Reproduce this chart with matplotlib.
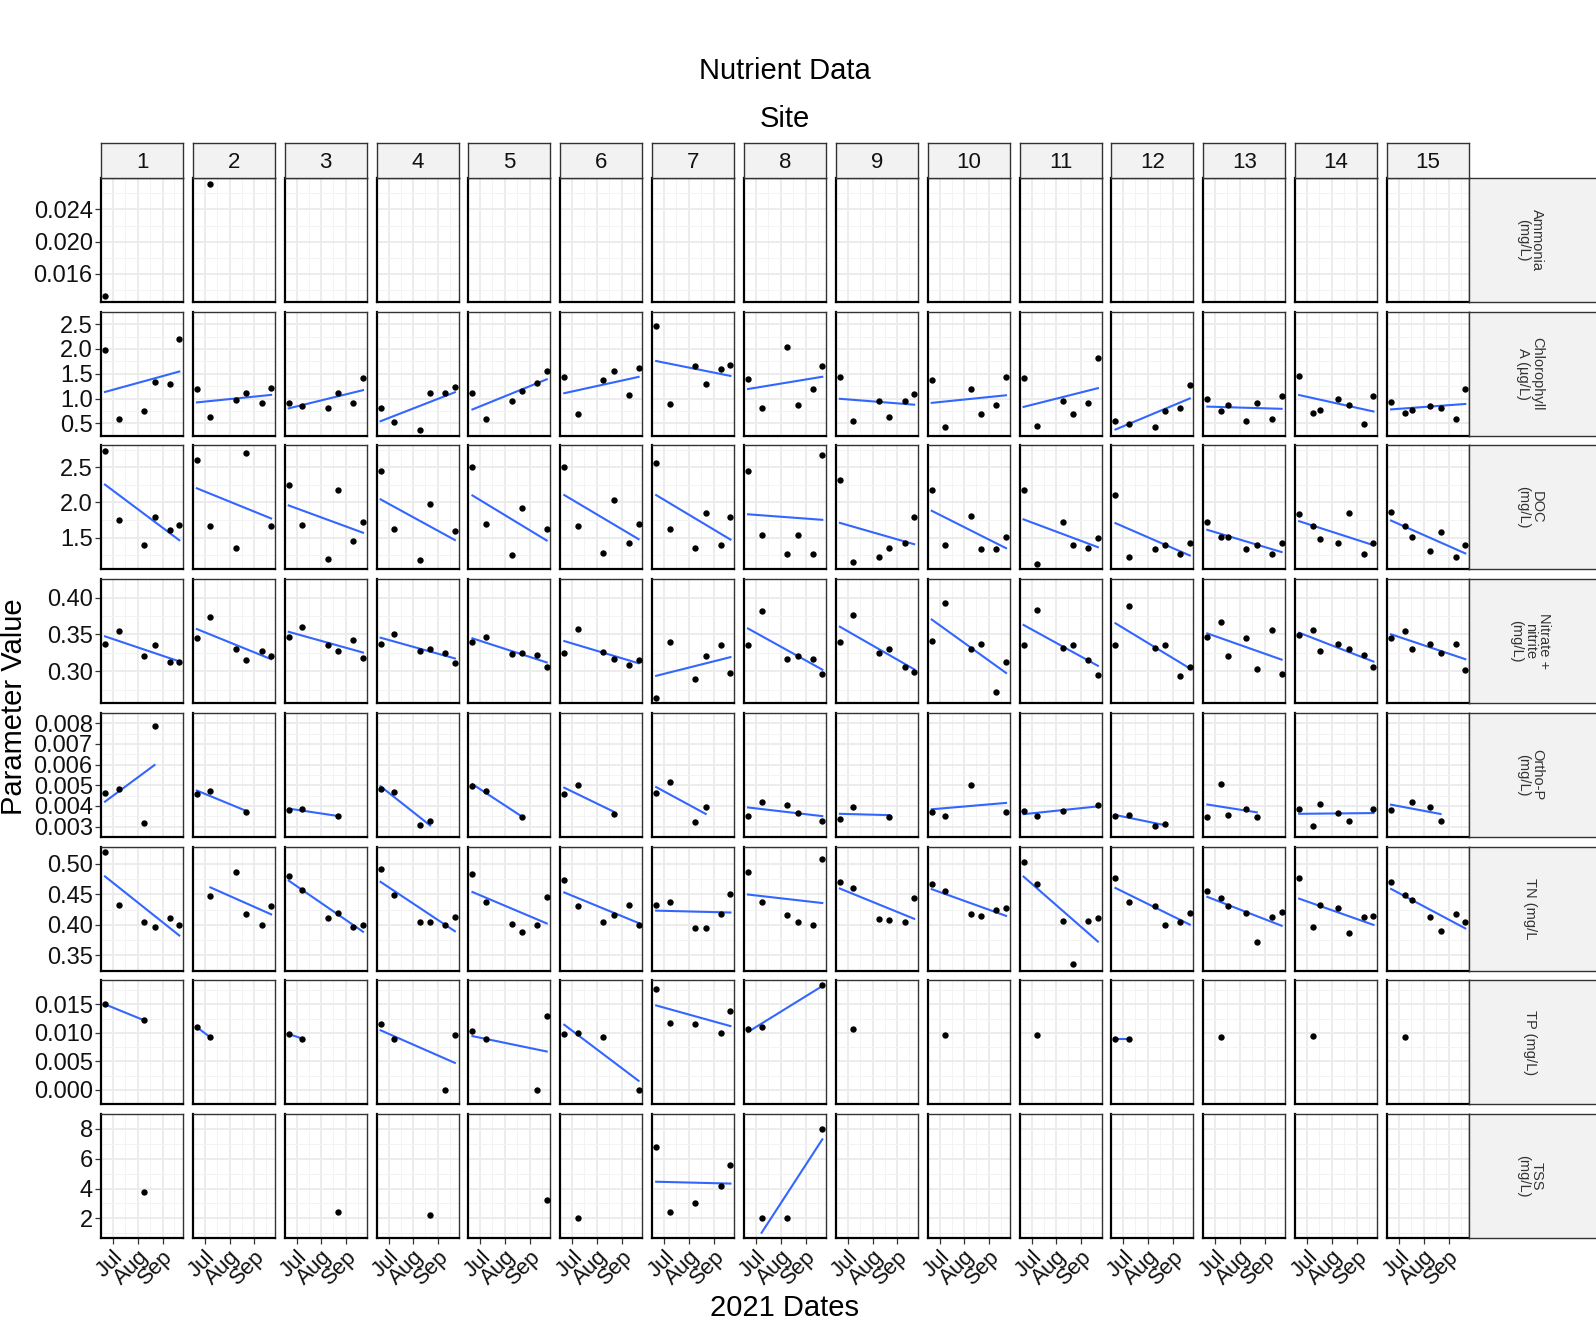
import numpy as np
import matplotlib.pyplot as plt
import matplotlib.dates as mdates

plt.rcParams['font.family'] = ['Liberation Sans', 'DejaVu Sans']

N = None

# sampling visits; only sites 13-15 have the extra mid-July visit
DATES = ['2021-06-21', '2021-07-08', '2021-07-17', '2021-08-09',
         '2021-08-22', '2021-09-10', '2021-09-22']
SITES = [str(i) for i in range(1, 16)]
STRIP_LABELS = ['Ammonia\n(mg/L)', 'Chlorophyll\nA (µg/L)', 'DOC\n(mg/L)',
                'Nitrate +\nnitrite\n(mg/L)', 'Ortho-P\n(mg/L)', 'TN (mg/L',
                'TP (mg/L)', 'TSS\n(mg/L)']
MONTH_TICKS = ['2021-07-01', '2021-08-01', '2021-09-01']
MONTH_LABELS = ['Jul', 'Aug', 'Sep']
MINOR_X = ['2021-06-16', '2021-07-16', '2021-08-16', '2021-09-16']

EMPTY = [N, N, N, N, N, N, N]

# one list per site, one slot per date in DATES (None = not sampled)
ammonia = [
    [0.0132, N, N, N, N, N, N],
    [N, 0.0272, N, N, N, N, N],
    EMPTY, EMPTY, EMPTY, EMPTY, EMPTY, EMPTY, EMPTY,
    EMPTY, EMPTY, EMPTY, EMPTY, EMPTY, EMPTY,
]

chlorophyll = [
    [1.98, 0.58, N, 0.75, 1.33, 1.29, 2.20],
    [1.19, 0.62, N, 0.98, 1.11, 0.91, 1.21],
    [0.91, 0.85, N, 0.81, 1.11, 0.91, 1.41],
    [0.81, 0.52, N, 0.36, 1.12, 1.11, 1.23],
    [1.12, 0.58, N, 0.94, 1.15, 1.31, 1.55],
    [1.43, 0.68, N, 1.37, 1.55, 1.07, 1.61],
    [2.47, 0.89, N, 1.65, 1.29, 1.59, 1.67],
    [1.39, 0.81, N, 2.04, 0.87, 1.19, 1.65],
    [1.43, 0.54, N, 0.95, 0.62, 0.95, 1.09],
    [1.37, 0.43, N, 1.19, 0.68, 0.87, 1.43],
    [1.41, 0.44, N, 0.95, 0.68, 0.91, 1.82],
    [0.54, 0.48, N, 0.43, 0.75, 0.81, 1.27],
    [0.99, 0.75, 0.87, 0.54, 0.91, 0.59, 1.05],
    [1.45, 0.71, 0.77, 0.99, 0.87, 0.48, 1.05],
    [0.93, 0.71, 0.77, 0.85, 0.81, 0.59, 1.19],
]

doc = [
    [2.73, 1.75, N, 1.39, 1.80, 1.61, 1.68],
    [2.61, 1.66, N, 1.36, 2.70, N, 1.66],
    [2.25, 1.68, N, 1.20, 2.18, 1.46, 1.72],
    [2.45, 1.63, N, 1.19, 1.98, N, 1.60],
    [2.50, 1.69, N, 1.25, 1.92, N, 1.62],
    [2.51, 1.66, N, 1.29, 2.03, 1.42, 1.69],
    [2.56, 1.63, N, 1.36, 1.85, 1.39, 1.79],
    [2.45, 1.54, N, 1.27, 1.54, 1.27, 2.67],
    [2.32, 1.16, N, 1.23, 1.36, 1.42, 1.79],
    [2.18, 1.39, N, 1.81, 1.34, 1.34, 1.51],
    [2.18, 1.13, N, 1.72, 1.39, 1.36, 1.50],
    [2.10, 1.22, N, 1.34, 1.40, 1.27, 1.42],
    [1.72, 1.51, 1.51, 1.34, 1.39, 1.27, 1.43],
    [1.83, 1.66, 1.48, 1.42, 1.85, 1.27, 1.43],
    [1.87, 1.66, 1.51, 1.31, 1.58, 1.23, 1.40],
]

nitrate = [
    [0.337, 0.355, N, 0.321, 0.335, 0.312, 0.313],
    [0.345, 0.373, N, 0.330, 0.315, 0.327, 0.320],
    [0.346, 0.360, N, 0.335, 0.328, 0.342, 0.318],
    [0.337, 0.350, N, 0.328, 0.330, 0.325, 0.311],
    [0.339, 0.346, N, 0.323, 0.325, 0.322, 0.306],
    [0.325, 0.357, N, 0.326, 0.316, 0.308, 0.315],
    [0.263, 0.339, N, 0.289, 0.320, 0.336, 0.297],
    [0.335, 0.382, N, 0.316, 0.320, 0.317, 0.296],
    [0.339, 0.376, N, 0.325, 0.330, 0.305, 0.299],
    [0.341, 0.393, N, 0.330, 0.337, 0.271, 0.313],
    [0.335, 0.383, N, 0.332, 0.336, 0.315, 0.295],
    [0.335, 0.389, N, 0.332, 0.336, 0.293, 0.306],
    [0.346, 0.367, 0.320, 0.345, 0.303, 0.356, 0.296],
    [0.349, 0.356, 0.327, 0.337, 0.330, 0.322, 0.306],
    [0.345, 0.355, 0.330, 0.337, 0.325, 0.337, 0.302],
]

ortho_p = [
    [0.00461, 0.00483, N, 0.00317, 0.00786, N, N],
    [0.00455, 0.00473, N, N, 0.00368, N, N],
    [0.00382, 0.00383, N, N, 0.00349, N, N],
    [0.00483, 0.00469, N, 0.00308, 0.00327, N, N],
    [0.00497, 0.00473, N, N, 0.00345, N, N],
    [0.00455, 0.00501, N, N, 0.00359, N, N],
    [0.00461, 0.00515, N, 0.00323, 0.00396, N, N],
    [0.00349, 0.00418, N, 0.00404, 0.00363, N, 0.00327],
    [0.00335, 0.00396, N, N, 0.00345, N, N],
    [0.00368, 0.00349, N, 0.00501, N, N, 0.00368],
    [0.00377, 0.00349, N, 0.00373, N, N, 0.00404],
    [0.00349, 0.00355, N, 0.00304, 0.00313, N, N],
    [0.00345, 0.00506, 0.00355, 0.00387, 0.00345, N, N],
    [0.00387, 0.00304, 0.00410, 0.00363, 0.00327, N, 0.00387],
    [0.00382, N, 0.00418, 0.00396, 0.00327, N, N],
]

tn = [
    [0.519, 0.432, N, 0.404, 0.396, 0.411, 0.399],
    [N, 0.447, N, 0.486, 0.418, 0.399, 0.430],
    [0.480, 0.457, N, 0.411, 0.419, 0.396, 0.399],
    [0.491, 0.449, N, 0.404, 0.404, 0.399, 0.412],
    [0.483, 0.437, N, 0.402, 0.388, 0.399, 0.446],
    [0.473, 0.430, N, 0.404, 0.416, 0.433, 0.399],
    [0.433, 0.437, N, 0.395, 0.395, 0.418, 0.451],
    [0.487, 0.437, N, 0.416, 0.404, 0.400, 0.508],
    [0.470, 0.461, N, 0.409, 0.407, 0.404, 0.444],
    [0.466, 0.456, N, 0.418, 0.415, 0.425, 0.428],
    [0.503, 0.466, N, 0.406, 0.336, 0.406, 0.411],
    [0.477, 0.437, N, 0.430, 0.400, 0.404, 0.419],
    [0.456, 0.444, 0.430, 0.419, 0.371, 0.412, 0.421],
    [0.477, 0.397, 0.433, 0.428, 0.386, 0.412, 0.415],
    [0.470, 0.449, 0.440, 0.412, 0.390, 0.418, 0.404],
]

tp = [
    [0.0150, N, N, 0.0122, N, N, N],
    [0.0110, 0.0092, N, N, N, N, N],
    [0.0098, 0.0090, N, N, N, N, N],
    [0.0115, 0.0090, N, N, N, 0.0, 0.0096],
    [0.0103, 0.0090, N, N, N, 0.0, 0.0129],
    [0.0098, 0.0099, N, 0.0092, N, N, 0.0],
    [0.0176, 0.0118, N, 0.0115, N, 0.0100, 0.0138],
    [0.0106, 0.0111, N, N, N, N, 0.0183],
    [N, 0.0106, N, N, N, N, N],
    [N, 0.0097, N, N, N, N, N],
    [N, 0.0096, N, N, N, N, N],
    [0.0090, 0.0090, N, N, N, N, N],
    [N, 0.0092, N, N, N, N, N],
    [N, 0.0094, N, N, N, N, N],
    [N, 0.0092, N, N, N, N, N],
]

tss = [
    [N, N, N, 3.8, N, N, N],
    EMPTY,
    [N, N, N, N, 2.4, N, N],
    [N, N, N, N, 2.2, N, N],
    [N, N, N, N, N, N, 3.2],
    [N, 2.0, N, N, N, N, N],
    [6.8, 2.4, N, 3.0, N, 4.16, 5.6],
    [N, 2.0, N, 2.0, N, N, 8.0],
    EMPTY, EMPTY, EMPTY, EMPTY, EMPTY, EMPTY, EMPTY,
]

ROWS = [ammonia, chlorophyll, doc, nitrate, ortho_p, tn, tp, tss]
Y_TICKS = [[0.016, 0.020, 0.024], [0.5, 1.0, 1.5, 2.0, 2.5], [1.5, 2.0, 2.5],
           [0.30, 0.35, 0.40], [0.003, 0.004, 0.005, 0.006, 0.007, 0.008],
           [0.35, 0.40, 0.45, 0.50], [0.000, 0.005, 0.010, 0.015], [2, 4, 6, 8]]
Y_FMT = ['%.3f', '%.1f', '%.1f', '%.2f', '%.3f', '%.2f', '%.3f', '%d']

x_all = mdates.date2num(np.array(DATES, dtype='datetime64[D]'))
x_major = mdates.date2num(np.array(MONTH_TICKS, dtype='datetime64[D]'))
x_minor = mdates.date2num(np.array(MINOR_X, dtype='datetime64[D]'))


def site_points(vals):
    x = np.array([d for d, v in zip(x_all, vals) if v is not None])
    y = np.array([v for v in vals if v is not None], dtype=float)
    return x, y


def lm_line(x, y):
    # same as geom_smooth(method = "lm", se = FALSE)
    if len(x) < 2:
        return None
    k, b = np.polyfit(x - x.min(), y, 1)
    xs = np.array([x.min(), x.max()])
    return xs, k * (xs - x.min()) + b


def expand(lo, hi, f=0.05):
    d = hi - lo
    return lo - f * d, hi + f * d


# pixel layout
W, H = 1596, 1331
L0, PW, PX = 101, 82, 91.86
T0, PH, PY = 178, 124, 133.71


def box(x0, y0, w, h):
    return [x0 / W, 1 - (y0 + h) / H, w / W, h / H]


fig = plt.figure(figsize=(W / 100, H / 100), dpi=100)

xlim = expand(x_all.min(), x_all.max())
txt = '#111111'

for r, data in enumerate(ROWS):
    pts = [site_points(v) for v in data]
    fits = [lm_line(x, y) for x, y in pts]
    ys = [y for _, y in pts if len(y)] + [f[1] for f in fits if f is not None]
    ys = np.concatenate(ys)
    ylim = expand(ys.min(), ys.max())
    ticks = Y_TICKS[r]
    step = ticks[1] - ticks[0]
    y_minor = [t - step / 2 for t in ticks] + [ticks[-1] + step / 2]

    for c in range(len(SITES)):
        ax = fig.add_axes(box(L0 + c * PX, T0 + r * PY, PW, PH))
        ax.set_xlim(xlim)
        ax.set_ylim(ylim)
        ax.set_xticks(x_major)
        ax.set_xticks(x_minor, minor=True)
        ax.set_yticks(ticks)
        ax.set_yticks(y_minor, minor=True)
        ax.grid(True, which='major', color='#ebebeb', lw=1.3)
        ax.grid(True, which='minor', color='#f3f3f3', lw=0.7)
        ax.set_axisbelow(True)
        for side in ['top', 'right']:
            ax.spines[side].set_color('#333333')
            ax.spines[side].set_linewidth(1.0)
        for side in ['left', 'bottom']:
            ax.spines[side].set_color('black')
            ax.spines[side].set_linewidth(1.6)

        x, y = pts[c]
        if fits[c] is not None:
            ax.plot(fits[c][0], fits[c][1], color='#3366FF', lw=1.5, zorder=2)
        if len(x):
            ax.scatter(x, y, s=21, color='black', zorder=3, clip_on=False,
                       linewidths=0)

        ax.tick_params(which='minor', length=0)
        ax.tick_params(which='major', length=4, width=0.9, color='#333333',
                       labelsize=17, labelcolor=txt, pad=2)
        if c == 0:
            ax.set_yticklabels([Y_FMT[r] % t for t in ticks])
        else:
            ax.tick_params(axis='y', length=0, labelleft=False)
        if r == len(ROWS) - 1:
            ax.set_xticklabels(MONTH_LABELS, rotation=45, ha='right', va='top',
                               rotation_mode='anchor', fontsize=16)
            ax.tick_params(axis='x', pad=2)
        else:
            ax.tick_params(axis='x', length=0, labelbottom=False)

    # right-hand facet strip
    sa = fig.add_axes(box(1469, T0 + r * PY, 140, PH))
    sa.set_facecolor('#f2f2f2')
    sa.set_xticks([])
    sa.set_yticks([])
    for sp in sa.spines.values():
        sp.set_color('#333333')
        sp.set_linewidth(1.0)
    fig.text(1530 / W, 1 - (T0 + r * PY + PH / 2) / H, STRIP_LABELS[r],
             rotation=-90, ha='center', va='center', fontsize=10.5,
             color='#333333', linespacing=1.0, multialignment='center')

# top facet strips
for c, s in enumerate(SITES):
    sa = fig.add_axes(box(L0 + c * PX, 143, PW, 35))
    sa.set_facecolor('#f2f2f2')
    sa.set_xticks([])
    sa.set_yticks([])
    for sp in sa.spines.values():
        sp.set_color('#333333')
        sp.set_linewidth(1.0)
    sa.text(0.5, 0.45, s, transform=sa.transAxes, ha='center', va='center',
            fontsize=16, color=txt)

fig.text(785 / W, 1 - 71 / H, 'Nutrient Data', ha='center', va='center',
         fontsize=21, color='black')
fig.text(785 / W, 1 - 119 / H, 'Site', ha='center', va='center',
         fontsize=21, color='black')
fig.text(785 / W, 1 - 1308 / H, '2021 Dates', ha='center', va='center',
         fontsize=21, color='black')
fig.text(14 / W, 1 - 707 / H, 'Parameter Value', ha='center', va='center',
         rotation=90, fontsize=21, color='black')

fig.savefig('out.png', dpi=100, facecolor='white')
